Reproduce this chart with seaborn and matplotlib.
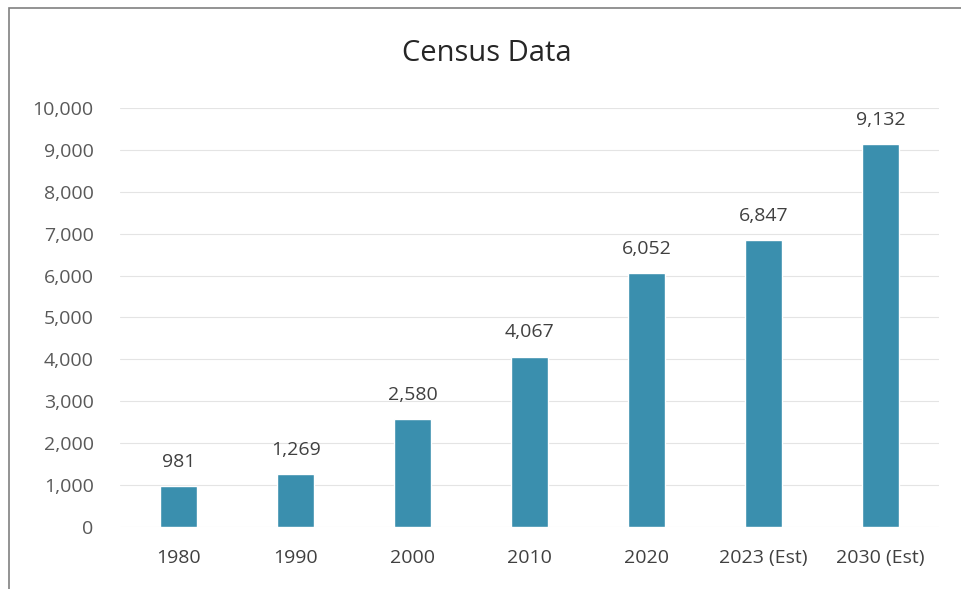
import matplotlib
matplotlib.use('Agg')
import pandas as pd
import matplotlib.pyplot as plt
import seaborn as sns
from matplotlib.ticker import FuncFormatter

years = ['1980', '1990', '2000', '2010', '2020', '2023 (Est)', '2030 (Est)']
population = [981, 1269, 2580, 4067, 6052, 6847, 9132]
y_ticks = list(range(0, 10001, 1000))

df = pd.DataFrame({'year': years, 'population': population})

sns.set_style('white')
plt.rcParams['font.family'] = ['Open Sans', 'DejaVu Sans']

fig = plt.figure(figsize=(9.61, 5.89), dpi=100)
ax = fig.add_axes([0.125, 0.105, 0.852, 0.712])

sns.barplot(data=df, x='year', y='population', color='#3a8fae', saturation=1,
            width=0.32, ax=ax)

# etichette sopra le barre
for i, v in enumerate(population):
    ax.annotate(f'{v:,}', (i, v), xytext=(0, 11), textcoords='offset points',
                ha='center', va='bottom', fontsize=14, color='#404040')

ax.set_ylim(0, 10000)
ax.set_yticks(y_ticks)
ax.yaxis.set_major_formatter(FuncFormatter(lambda v, p: f'{int(v):,}'))
ax.grid(axis='y', color='#e4e4e4', linewidth=0.8)
ax.set_axisbelow(True)
for s in ax.spines.values():
    s.set_visible(False)
ax.tick_params(axis='x', length=0, pad=16, labelsize=14, labelcolor='#404040')
ax.tick_params(axis='y', length=0, pad=19, labelsize=14, labelcolor='#595959')
ax.set_xlabel('')
ax.set_ylabel('')

fig.text(0.507, 0.91, 'Census Data', ha='center', va='center', fontsize=21, color='#262626')

# cornice del grafico
frame = plt.Rectangle((0.009, -0.01), 1.1, 0.997, transform=fig.transFigure,
                      fill=False, edgecolor='#808080', linewidth=1.2)
fig.patches.append(frame)

fig.savefig('out.png', dpi=100)
